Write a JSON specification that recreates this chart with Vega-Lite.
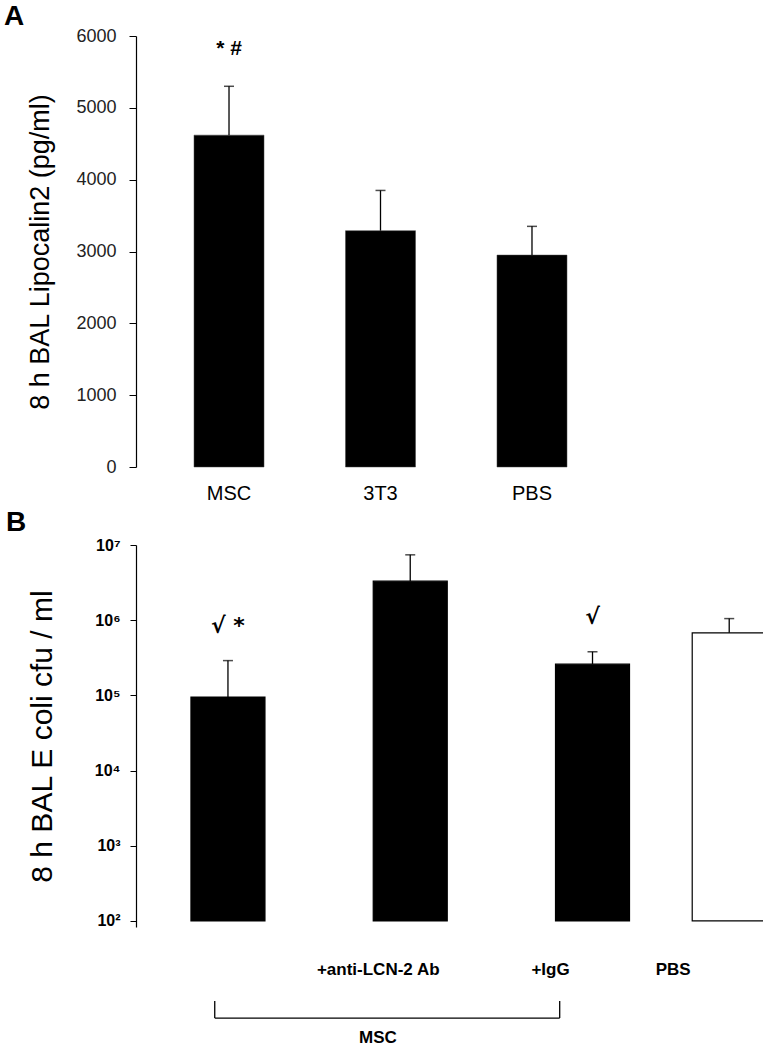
{
  "$schema": "https://vega.github.io/schema/vega-lite/v6.json",
  "padding": {"top": 3, "left": 4, "right": 0, "bottom": 0},
  "background": "white",
  "config": {"view": {"stroke": null}, "concat": {"spacing": 6}},
  "datasets": {
    "a": [
      {"group": "MSC", "value": 4620, "err": 5300, "ann": "* #"},
      {"group": "3T3", "value": 3290, "err": 3850, "ann": null},
      {"group": "PBS", "value": 2950, "err": 3350, "ann": null}
    ],
    "b": [
      {"group": "MSC", "value": 95000, "err": 290000, "ann": "√ *"},
      {"group": "+anti-LCN-2  Ab", "value": 3300000, "err": 7400000, "ann": null},
      {"group": "+IgG", "value": 260000, "err": 380000, "ann": "√"},
      {"group": "PBS", "value": 680000, "err": 1050000, "ann": null}
    ]
  },
  "vconcat": [
    {
      "width": 489,
      "height": 431,
      "title": {"text": "A", "anchor": "start", "frame": "group", "font": "Liberation Sans", "fontSize": 28, "fontWeight": "bold", "color": "black", "dx": -132, "offset": -4},
      "data": {"name": "a"},
      "encoding": {
        "x": {"field": "group", "type": "nominal", "sort": null,
          "scale": {"paddingInner": 0, "paddingOuter": 0.114},
          "axis": {"title": null, "domain": false, "ticks": false, "labelAngle": 0, "labelFont": "Liberation Sans", "labelFontSize": 20, "labelColor": "black", "labelPadding": 16, "labelOverlap": false}}
      },
      "layer": [
        {
          "mark": {"type": "bar", "width": 70, "fill": "black", "stroke": "#444", "strokeWidth": 0.5},
          "encoding": {
            "y": {"field": "value", "type": "quantitative",
              "scale": {"domain": [0, 6000], "nice": false},
              "axis": {"values": [0, 1000, 2000, 3000, 4000, 5000, 6000], "format": "d", "grid": false, "title": "8 h BAL Lipocalin2 (pg/ml)", "titleFont": "Liberation Sans", "titleFontSize": 27, "titleFontWeight": "normal", "titleColor": "black", "titlePadding": 21, "labelFont": "Liberation Sans", "labelFontSize": 18, "labelColor": "#222", "labelPadding": 13, "tickSize": 7, "tickColor": "black", "domainColor": "black", "domainWidth": 1.2}}
          }
        },
        {
          "mark": {"type": "rule", "color": "black", "strokeWidth": 1.3},
          "encoding": {"y": {"field": "value", "type": "quantitative"}, "y2": {"field": "err"}}
        },
        {
          "mark": {"type": "tick", "color": "black", "thickness": 1.5, "size": 10},
          "encoding": {"y": {"field": "err", "type": "quantitative"}}
        },
        {
          "transform": [{"filter": "datum.ann != null"}],
          "mark": {"type": "text", "font": "Liberation Sans", "fontSize": 21, "fontWeight": "bold", "dy": -37, "baseline": "middle", "color": "black"},
          "encoding": {"y": {"field": "err", "type": "quantitative"}, "text": {"field": "ann"}}
        }
      ]
    },
    {
      "width": 616,
      "height": 382,
      "title": {"text": "B", "anchor": "start", "frame": "group", "font": "Liberation Sans", "fontSize": 28, "fontWeight": "bold", "color": "black", "dx": -130, "offset": 0},
      "data": {"name": "b"},
      "encoding": {
        "x": {"field": "group", "type": "nominal",
          "scale": {"domain": ["MSC", "_1", "_2", "_3", "+anti-LCN-2  Ab", "_5", "_6", "_7", "+IgG", "_9", "_10", "PBS"], "paddingInner": 0, "paddingOuter": 0.759, "align": 1},
          "axis": {"title": null, "domain": false, "ticks": false, "labelAngle": 0, "labelFont": "Liberation Sans", "labelFontSize": 17, "labelFontWeight": "bold", "labelColor": "black", "labelPadding": 34, "labelOverlap": false, "labelLimit": 300,
            "labelExpr": "(datum.value == 'MSC' || indexof(datum.value, '_') == 0) ? '' : datum.label",
            "labelOffset": {"condition": [{"test": "datum.value == '+IgG'", "value": -42}, {"test": "datum.value == 'PBS'", "value": -56}], "value": -32}}
        }
      },
      "layer": [
        {
          "mark": {"type": "bar", "width": 74, "stroke": "black", "strokeWidth": 1.2},
          "encoding": {
            "y": {"field": "value", "type": "quantitative",
              "scale": {"type": "log", "domain": [83, 10000000], "nice": false},
              "axis": {"values": [100, 1000, 10000, 100000, 1000000, 10000000], "grid": false, "title": "8 h BAL E coli cfu / ml", "titleFont": "Liberation Sans", "titleFontSize": 30, "titleFontWeight": "normal", "titleColor": "black", "titlePadding": 37,
                "labelExpr": "'10' + substring('⁰¹²³⁴⁵⁶⁷⁸', round(log(datum.value) / LN10), round(log(datum.value) / LN10) + 1)",
                "labelFont": "Liberation Sans", "labelFontSize": 16, "labelFontWeight": "bold", "labelColor": "black", "labelPadding": 10, "tickSize": 6, "tickColor": "black", "domainColor": "black", "domainWidth": 1.2}},
            "y2": {"datum": 100},
            "fill": {"condition": {"test": "datum.group == 'PBS'", "value": "white"}, "value": "black"}
          }
        },
        {
          "mark": {"type": "rule", "color": "black", "strokeWidth": 1.3},
          "encoding": {"y": {"field": "value", "type": "quantitative"}, "y2": {"field": "err"}}
        },
        {
          "mark": {"type": "tick", "color": "black", "thickness": 1.5, "size": 10},
          "encoding": {"y": {"field": "err", "type": "quantitative"}}
        },
        {
          "transform": [{"filter": "datum.ann != null"}],
          "mark": {"type": "text", "font": "DejaVu Sans", "fontSize": 22, "fontWeight": "bold", "dy": -35, "baseline": "middle", "color": "black"},
          "encoding": {"y": {"field": "err", "type": "quantitative"}, "text": {"field": "ann"}}
        },
        {
          "data": {"values": [{}]},
          "mark": {"type": "rule", "color": "black", "strokeWidth": 1.3},
          "encoding": {"x": {"datum": "MSC", "bandPosition": 0.21}, "x2": {"datum": "_7", "bandPosition": 0.78}, "y": {"datum": 5.1}}
        },
        {
          "data": {"values": [{}]},
          "mark": {"type": "rule", "color": "black", "strokeWidth": 1.3},
          "encoding": {"x": {"datum": "MSC", "bandPosition": 0.21}, "y": {"datum": 5.1}, "y2": {"datum": 8.6}}
        },
        {
          "data": {"values": [{}]},
          "mark": {"type": "rule", "color": "black", "strokeWidth": 1.3},
          "encoding": {"x": {"datum": "_7", "bandPosition": 0.78}, "y": {"datum": 5.1}, "y2": {"datum": 8.6}}
        },
        {
          "data": {"values": [{}]},
          "mark": {"type": "text", "text": "MSC", "font": "Liberation Sans", "fontSize": 17, "fontWeight": "bold", "baseline": "middle", "color": "black"},
          "encoding": {"x": {"datum": "_3", "bandPosition": 0.79}, "y": {"datum": 2.8}}
        }
      ]
    }
  ]
}
